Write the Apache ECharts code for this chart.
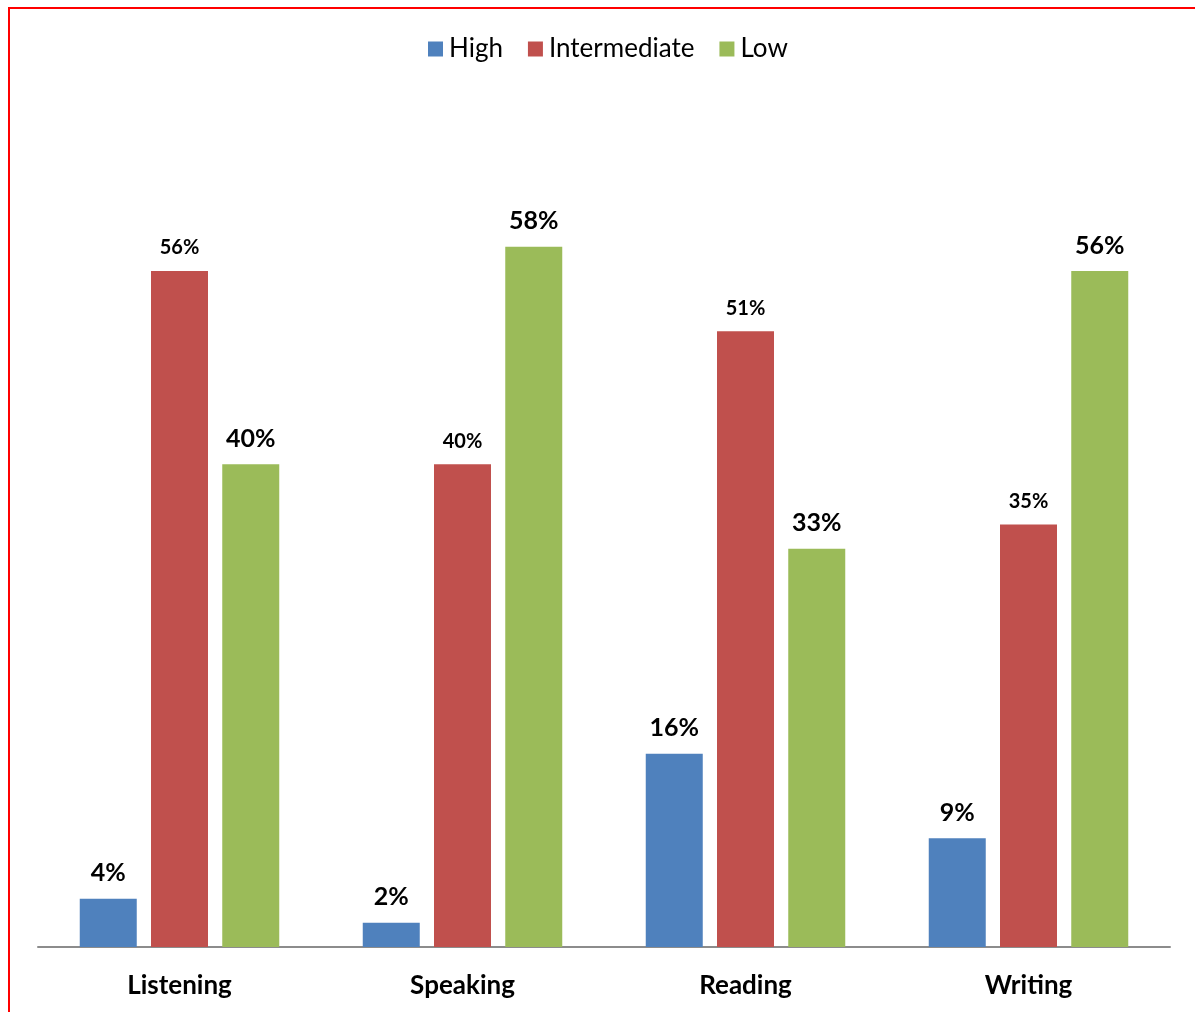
<!DOCTYPE html>
<html>
<head>
<meta charset="utf-8">
<script src="https://cdn.jsdelivr.net/npm/echarts@6/dist/echarts.min.js"></script>
<style>
html,body{margin:0;padding:0;background:#fff;}
#chart{width:1195px;height:1012px;}
</style>
</head>
<body>
<div id="chart"></div>
<script>
const categories = ['Listening', 'Speaking', 'Reading', 'Writing'];
const seriesNames = ['High', 'Intermediate', 'Low'];
const highValues = [4, 2, 16, 9];
const intermediateValues = [56, 40, 51, 35];
const lowValues = [40, 58, 33, 56];
const colors = ['#4F81BD', '#C0504D', '#9BBB59'];

const chart = echarts.init(document.getElementById('chart'), null, {renderer: 'canvas'});
const FONT = 'Lato, "Open Sans", sans-serif';

function mkSeries(name, data, color, labelSize) {
  return {
    name: name,
    type: 'bar',
    data: data,
    barWidth: 57,
    barGap: '25%',
    itemStyle: {color: color},
    label: {
      show: true,
      position: 'top',
      distance: 13,
      formatter: p => p.value + '%',
      fontFamily: FONT,
      fontWeight: 'bold',
      fontSize: labelSize,
      color: '#000'
    }
  };
}

chart.setOption({
  animation: false,
  backgroundColor: '#fff',
  color: colors,
  legend: {
    top: 36,
    left: 428,
    padding: 0,
    itemWidth: 15,
    itemHeight: 15,
    itemGap: 25,
    icon: 'rect',
    textStyle: {fontFamily: FONT, fontSize: 26, color: '#000', padding: [0, 0, 0, 1]},
    data: seriesNames
  },
  grid: {left: 38, right: 25, top: 102, bottom: 65, containLabel: false},
  xAxis: {
    type: 'category',
    data: categories,
    axisLine: {show: true, lineStyle: {color: '#8c8c8c', width: 2}},
    axisTick: {show: false},
    axisLabel: {fontFamily: FONT, fontWeight: 'bold', fontSize: 26, color: '#000', margin: 26}
  },
  yAxis: {
    type: 'value',
    min: 0,
    max: 70,
    show: false,
    splitLine: {show: false}
  },
  graphic: [
    {type: 'line', shape: {x1: 9, y1: 7, x2: 9, y2: 1012}, style: {stroke: '#FF0000', lineWidth: 2}},
    {type: 'line', shape: {x1: 8, y1: 8, x2: 1195, y2: 8}, style: {stroke: '#FF0000', lineWidth: 2}}
  ],
  series: [
    mkSeries(seriesNames[0], highValues, colors[0], 25),
    mkSeries(seriesNames[1], intermediateValues, colors[1], 20),
    mkSeries(seriesNames[2], lowValues, colors[2], 25)
  ]
});
</script>
</body>
</html>
